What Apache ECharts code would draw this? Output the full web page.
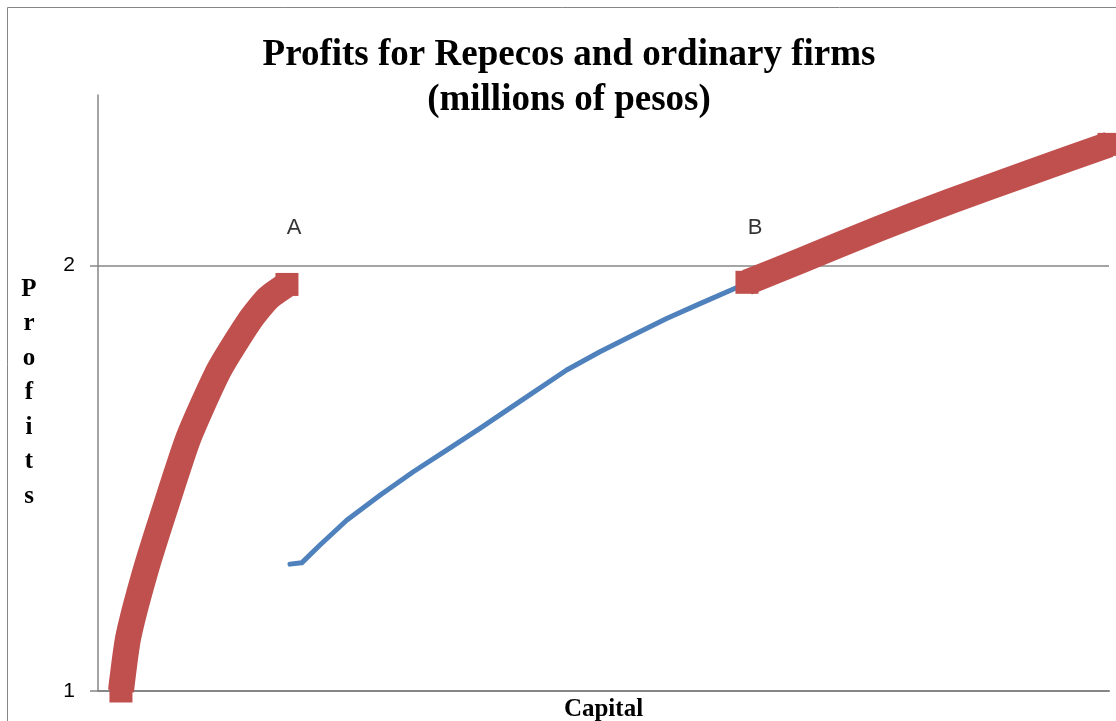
<!DOCTYPE html>
<html>
<head>
<meta charset="utf-8">
<script src="https://cdn.jsdelivr.net/npm/echarts@6/dist/echarts.min.js"></script>
<style>
  html, body { margin: 0; padding: 0; background: #fff; overflow: hidden; }
  #chart { width: 1116px; height: 721px; }
</style>
</head>
<body>
<div id="chart"></div>
<script>
// Repecos, segment near A (capital, profits)
const repecosLowX = [2.27, 3.0, 4.72, 6.8, 8.99, 11.97, 15.03, 16.82, 18.69]
const repecosLowY = [1.0, 1.127, 1.284, 1.441, 1.597, 1.754, 1.871, 1.923, 1.955]

// Ordinary firms
const ordinaryX = [18.99, 20.15, 21.96, 24.6, 27.89, 31.19, 34.49, 37.78, 41.41, 46.36, 49.65, 52.95, 56.25, 59.55, 63.2]
const ordinaryY = [1.298, 1.301, 1.343, 1.401, 1.46, 1.515, 1.566, 1.617, 1.675, 1.754, 1.797, 1.836, 1.875, 1.91, 1.948]

// Repecos, segment after B
const repecosHighX = [64.19, 69.44, 77.35, 84.27, 92.19, 100]
const repecosHighY = [1.96, 2.01, 2.087, 2.15, 2.218, 2.284]

// point labels
const pointNames = ['A', 'B']
const pointX = [19.4, 65.0]
const pointY = [2.087, 2.087]

const yTicks = [1, 2]

const RED = '#C0504D'
const BLUE = '#4F81BD'
const GRAY = '#868686'

// square markers only at both ends, like the Excel chart
function redData(xs, ys) {
  return xs.map((x, i) => {
    const item = { value: [x, ys[i]] }
    if (i === 0 || i === xs.length - 1) {
      item.symbol = 'rect'
      item.symbolSize = 23
    }
    return item
  })
}

const chart = echarts.init(document.getElementById('chart'))

const option = {
  animation: false,
  title: {
    text: 'Profits for Repecos and ordinary firms\n(millions of pesos)',
    left: 564,
    top: 28,
    textAlign: 'center',
    textStyle: {
      fontFamily: 'Liberation Serif',
      fontWeight: 'bold',
      fontSize: 37,
      lineHeight: 45,
      color: '#000',
    },
  },
  graphic: [
    {
      type: 'rect',
      shape: { x: 7.5, y: 7.5, width: 1300, height: 900 },
      style: { fill: 'none', stroke: GRAY, lineWidth: 1 },
      silent: true,
    },
  ],
  grid: { left: 98, right: 7, top: 95, bottom: 30, outerBoundsMode: 'none', containLabel: false },
  xAxis: {
    type: 'value',
    min: 0,
    max: 100,
    name: 'Capital',
    nameLocation: 'middle',
    nameGap: 6,
    nameTextStyle: {
      fontFamily: 'Liberation Serif',
      fontWeight: 'bold',
      fontSize: 25,
      color: '#000',
    },
    axisLine: { show: true, onZero: false, lineStyle: { color: GRAY, width: 2 } },
    axisTick: { show: false },
    axisLabel: { show: false },
    splitLine: { show: false },
  },
  yAxis: {
    type: 'value',
    min: 1,
    max: 2.4,
    interval: 1,
    name: 'P\nr\no\nf\ni\nt\ns',
    nameLocation: 'middle',
    nameRotate: 0,
    nameGap: 69,
    nameTextStyle: {
      fontFamily: 'Liberation Serif',
      fontWeight: 'bold',
      fontSize: 25,
      lineHeight: 34.5,
      align: 'center',
      padding: [11, 0, 0, 0],
      color: '#000',
    },
    axisLine: { show: true, lineStyle: { color: GRAY, width: 1.5 } },
    axisTick: { show: true, length: 8, customValues: yTicks, lineStyle: { color: GRAY, width: 1.5 } },
    axisLabel: {
      customValues: yTicks,
      margin: 23,
      fontFamily: 'Liberation Sans',
      fontSize: 21,
      color: '#000',
    },
    splitLine: { show: true, lineStyle: { color: GRAY, width: 1.5 } },
  },
  series: [
    {
      name: 'Ordinary firms',
      type: 'line',
      data: ordinaryX.map((x, i) => [x, ordinaryY[i]]),
      showSymbol: false,
      symbol: 'none',
      smooth: false,
      lineStyle: { color: BLUE, width: 5, cap: 'round', join: 'round' },
      z: 2,
    },
    {
      name: 'Repecos A',
      type: 'line',
      data: redData(repecosLowX, repecosLowY),
      symbol: 'none',
      smooth: 0.2,
      clip: false,
      itemStyle: { color: RED },
      lineStyle: { color: RED, width: 26, cap: 'butt', join: 'round' },
      z: 3,
    },
    {
      name: 'Repecos B',
      type: 'line',
      data: redData(repecosHighX, repecosHighY),
      symbol: 'none',
      smooth: 0.2,
      clip: false,
      itemStyle: { color: RED },
      lineStyle: { color: RED, width: 26, cap: 'butt', join: 'round' },
      z: 3,
    },
    {
      name: 'Points',
      type: 'scatter',
      data: pointX.map((x, i) => ({ name: pointNames[i], value: [x, pointY[i]] })),
      symbolSize: 0,
      label: {
        show: true,
        position: 'inside',
        formatter: (p) => p.name,
        fontFamily: 'Liberation Sans',
        fontSize: 22,
        color: '#000',
      },
      z: 4,
    },
  ],
}

chart.setOption(option)
</script>
</body>
</html>
